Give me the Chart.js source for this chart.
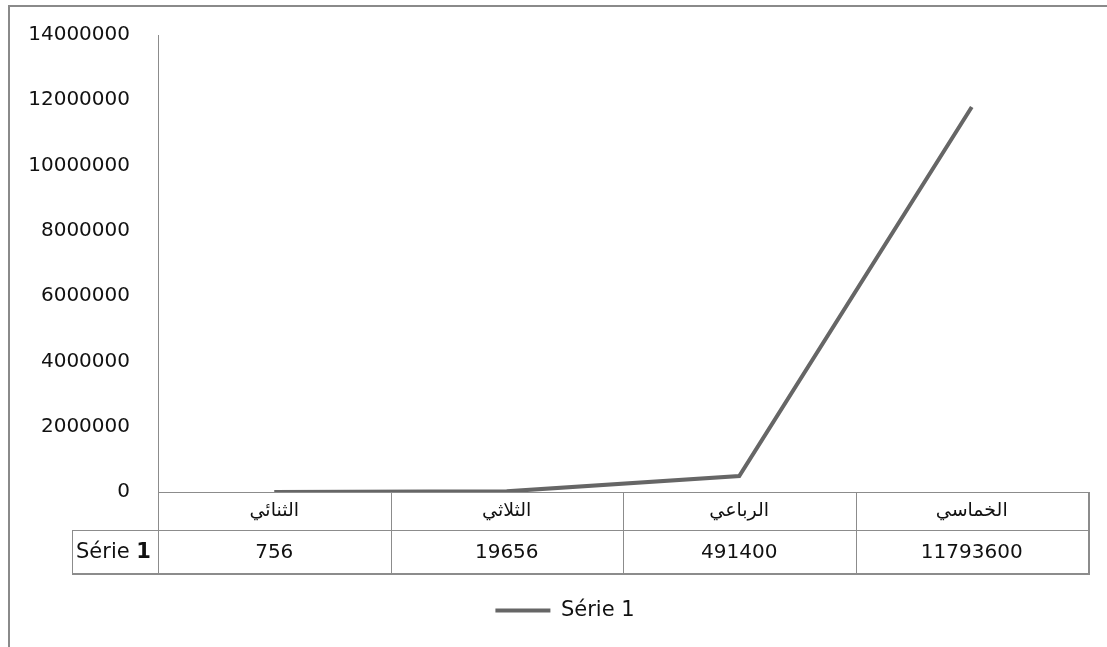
<!DOCTYPE html>
<html>
<head>
<meta charset="utf-8">
<script src="https://cdn.jsdelivr.net/npm/chart.js@4"></script>
<style>
  html, body { margin: 0; padding: 0; background: #fff; }
  #wrap { width: 1107px; height: 647px; }
</style>
</head>
<body>
<div id="wrap"><canvas id="myChart" width="1107" height="647"></canvas></div>
<script>
// categories and series
const categories = ['الثنائي', 'الثلاثي', 'الرباعي', 'الخماسي'];
const seriesName = 'Série 1';
const seriesValues = [756, 19656, 491400, 11793600];

// value axis
const yMin = 0;
const yMax = 14000000;
const yStep = 2000000;

const lineColor = '#666666';
const ruleColor = '#8c8c8c';
const textFont = '"DejaVu Sans", sans-serif';

// outer frame (top and left edges only)
const framePlugin = {
  id: 'frame',
  afterLayout(chart) {
    // legend sits a bit right of the canvas centre
    if (chart.legend) {
      chart.legend.left += 21;
      chart.legend.right += 21;
    }
  },
  beforeDraw(chart) {
    const ctx = chart.ctx;
    ctx.save();
    ctx.strokeStyle = '#8a8a8a';
    ctx.lineWidth = 2;
    ctx.beginPath();
    ctx.moveTo(9, chart.height);
    ctx.lineTo(9, 6);
    ctx.lineTo(chart.width, 6);
    ctx.stroke();
    ctx.restore();
  }
};

// data table under the plot: category row comes from the x ticks,
// this draws the grid and the value row
const tablePlugin = {
  id: 'dataTable',
  afterDraw(chart) {
    const ctx = chart.ctx;
    const area = chart.chartArea;
    const x = chart.scales.x;
    const top = Math.round(area.bottom);
    const mid = top + 38;
    const bottom = top + 81;
    const nameLeft = 72;

    ctx.save();
    ctx.strokeStyle = ruleColor;
    ctx.lineWidth = 1;
    ctx.beginPath();
    // header row bottom and value row bottom
    ctx.moveTo(nameLeft, mid + 0.5);
    ctx.lineTo(area.right, mid + 0.5);
    ctx.moveTo(nameLeft, bottom + 0.5);
    ctx.lineTo(area.right, bottom + 0.5);
    // series name cell left edge
    ctx.moveTo(nameLeft + 0.5, mid);
    ctx.lineTo(nameLeft + 0.5, bottom);
    // category column edges
    for (let i = 0; i <= categories.length; i++) {
      const px = Math.round(x.getPixelForValue(i - 0.5)) + 0.5;
      ctx.moveTo(px, top);
      ctx.lineTo(px, bottom);
    }
    ctx.stroke();

    ctx.lineWidth = 2;
    ctx.beginPath();
    ctx.moveTo(nameLeft, bottom + 1);
    ctx.lineTo(area.right + 1, bottom + 1);
    ctx.lineTo(area.right + 1, top);
    ctx.stroke();

    ctx.fillStyle = '#111';
    ctx.textBaseline = 'middle';
    ctx.textAlign = 'center';
    ctx.font = '20px ' + textFont;
    const rowY = (mid + bottom) / 2 + 1;
    seriesValues.forEach((v, i) => {
      ctx.fillText(String(v), x.getPixelForValue(i), rowY);
    });

    // series name, with the number in bold
    ctx.textAlign = 'left';
    ctx.font = '21px ' + textFont;
    const parts = seriesName.split(' ');
    const head = parts.slice(0, -1).join(' ') + ' ';
    ctx.fillText(head, nameLeft + 4, rowY);
    const w = ctx.measureText(head).width;
    ctx.font = 'bold 21px ' + textFont;
    ctx.fillText(parts[parts.length - 1], nameLeft + 4 + w, rowY);
    ctx.restore();
  }
};

const ctx = document.getElementById('myChart').getContext('2d');

const myChart = new Chart(ctx, {
  type: 'line',
  data: {
    labels: categories,
    datasets: [{
      label: seriesName,
      data: seriesValues,
      borderColor: lineColor,
      backgroundColor: lineColor,
      borderWidth: 4,
      pointRadius: 0,
      tension: 0,
      fill: false
    }]
  },
  options: {
    responsive: false,
    devicePixelRatio: 1,
    animation: false,
    events: [],
    layout: {
      padding: { left: 0, right: 19, top: 35, bottom: 16 }
    },
    scales: {
      x: {
        offset: true,
        grid: { display: false, drawTicks: false },
        border: { display: true, color: ruleColor, width: 1 },
        ticks: {
          padding: 8,
          color: '#111',
          font: { family: textFont, size: 19 }
        },
        afterFit(scale) { scale.height = 81; }
      },
      y: {
        min: yMin,
        max: yMax,
        grid: { display: false, drawTicks: false },
        border: { display: true, color: ruleColor, width: 1 },
        ticks: {
          stepSize: yStep,
          padding: 28,
          color: '#111',
          font: { family: textFont, size: 20 },
          callback: (v) => String(v)
        },
        afterFit(scale) {
          scale.width = 158;
          // the label gap is horizontal only; keep it out of the top inset
          scale.paddingTop = 12;
          scale.paddingBottom = 12;
        }
      }
    },
    plugins: {
      tooltip: { enabled: false },
      legend: {
        position: 'bottom',
        labels: {
          usePointStyle: true,
          pointStyle: 'line',
          pointStyleWidth: 55,
          padding: 27,
          color: '#111',
          font: { family: textFont, size: 21 }
        }
      }
    }
  },
  plugins: [framePlugin, tablePlugin]
});
</script>
</body>
</html>
